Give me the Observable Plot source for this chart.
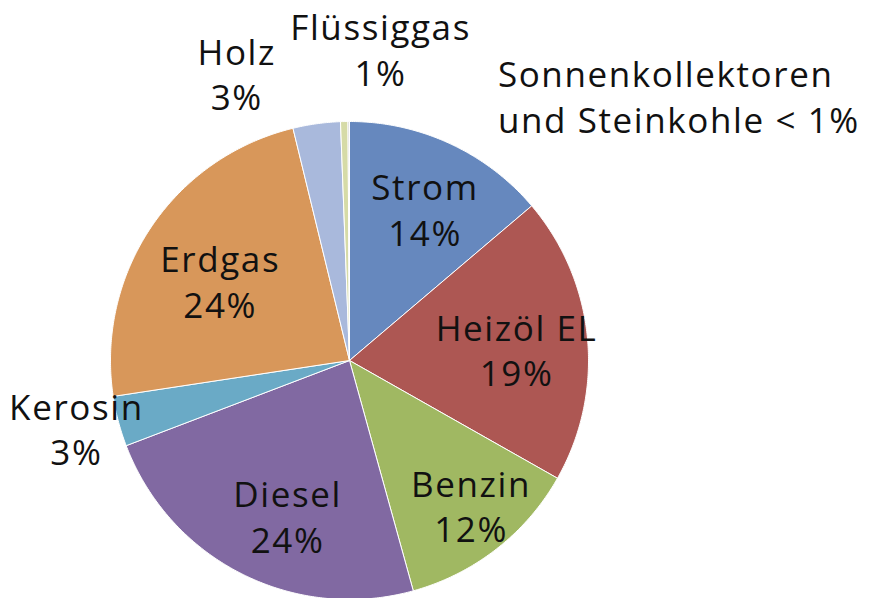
<!DOCTYPE html>
<html>
<head>
<meta charset="utf-8">
<script src="https://cdn.jsdelivr.net/npm/d3@7"></script>
<script src="https://cdn.jsdelivr.net/npm/@observablehq/plot@0.6"></script>
<style>
  html, body { margin: 0; padding: 0; background: #fff; }
  svg text { letter-spacing: 1.6px; }
</style>
</head>
<body>
<div id="chart"></div>
<script>
// Data (clockwise from 12 o'clock)
const categories = ["Strom", "Heizöl EL", "Benzin", "Diesel", "Kerosin", "Erdgas", "Holz", "Flüssiggas", "Sonnenkollektoren und Steinkohle"];
const shares = [13.8, 19.4, 12.5, 23.5, 3.4, 23.6, 3.2, 0.5, 0.1];
const labelTexts = ["Strom\n14%", "Heizöl EL\n19%", "Benzin\n12%", "Diesel\n24%", "Kerosin\n3%", "Erdgas\n24%", "Holz\n3%", "Flüssiggas\n1%", "Sonnenkollektoren\nund Steinkohle < 1%"];
const colors = ["#6688be", "#ad5753", "#a0b862", "#8169a2", "#6aaac6", "#d8975a", "#a9b9dc", "#d6dba7", "#c9c9c9"];

// Label layout: radius factor, angle nudge (deg), anchor
const labelLayout = [
  {rf: 0.70, dA: 2, anchor: "middle"},
  {rf: 0.70, dA: 2.5, anchor: "middle"},
  {rf: 0.80, dA: -1.5, anchor: "middle"},
  {rf: 0.71, dA: -5.4, anchor: "middle"},
  {rf: 1.18, dA: 0.3, anchor: "middle"},
  {rf: 0.63, dA: -3, anchor: "middle"},
  {rf: 1.28, dA: -13.7, anchor: "middle"},
  {rf: 1.30, dA: 7, anchor: "middle"},
  {rf: 1.26, dA: 29.7, anchor: "start"}
];

const total = d3.sum(shares);
const toRad = Math.PI / 180;
let cum = 0;
const slices = shares.map((v, i) => {
  const a0 = cum / total * 360;
  cum += v;
  const a1 = cum / total * 360;
  return {cat: categories[i], a0, a1, mid: (a0 + a1) / 2, i};
});

// polygon points
const poly = [];
for (const s of slices) {
  poly.push({cat: s.cat, x: 0, y: 0});
  const n = Math.max(2, Math.ceil((s.a1 - s.a0) / 0.5));
  for (let k = 0; k <= n; k++) {
    const a = (s.a0 + (s.a1 - s.a0) * k / n) * toRad;
    poly.push({cat: s.cat, x: Math.sin(a), y: Math.cos(a)});
  }
  poly.push({cat: s.cat, x: 0, y: 0});
}

const labels = slices.map(s => {
  const L = labelLayout[s.i];
  const a = (s.mid + L.dA) * toRad;
  return {text: labelTexts[s.i], x: Math.sin(a) * L.rf, y: Math.cos(a) * L.rf, anchor: L.anchor};
});

const textOpts = {x: "x", y: "y", text: "text", fontSize: 35, lineHeight: 1.3, dy: -3, fill: "#111"};

const chart = Plot.plot({
  width: 892,
  height: 598,
  margin: 0,
  style: {fontFamily: "'Open Sans', 'Noto Sans', sans-serif", background: "#fff", overflow: "visible"},
  x: {domain: [-1, 1], range: [110, 588], axis: null},
  y: {domain: [-1, 1], range: [599, 121], axis: null},
  color: {domain: categories, range: colors},
  marks: [
    Plot.line(poly, {x: "x", y: "y", z: "cat", fill: "cat", stroke: "#fff", strokeWidth: 1, curve: "linear"}),
    Plot.text(labels.filter(d => d.anchor === "middle"), {...textOpts, textAnchor: "middle"}),
    Plot.text(labels.filter(d => d.anchor === "start"), {...textOpts, textAnchor: "start"})
  ]
});
document.getElementById("chart").appendChild(chart);
</script>
</body>
</html>
